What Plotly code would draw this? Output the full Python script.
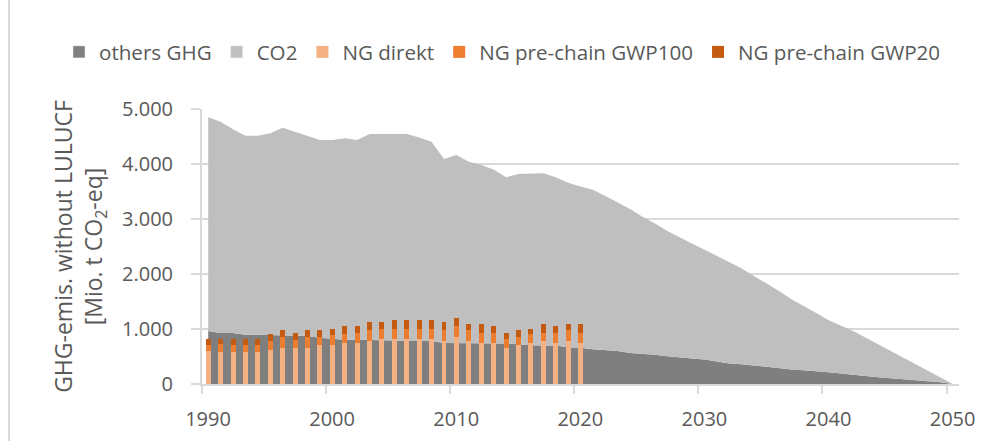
import plotly.graph_objects as go

# ---------------- data ----------------
years = list(range(1990, 2051))

others_ghg = [962, 926, 926, 896, 896, 890, 883, 883, 871, 841,
              817, 805, 805, 805, 805, 792, 780, 780, 780, 744,
              744, 744, 744, 740, 735, 725, 705, 700, 700, 670,
              660, 630, 620, 600, 565, 550, 530, 505, 490, 465,
              445, 410, 375, 360, 335, 310, 285, 265, 250, 235,
              215, 190, 165, 140, 125, 105, 90, 70, 50, 30, 0]

co2 = [3887, 3843, 3704, 3618, 3618, 3667, 3777, 3704, 3643, 3594,
       3618, 3661, 3630, 3740, 3740, 3753, 3765, 3704, 3625, 3345,
       3418, 3296, 3236, 3160, 3025, 3095, 3125, 3130, 3060, 2990,
       2930, 2900, 2800, 2700, 2615, 2490, 2390, 2275, 2170, 2085,
       1995, 1920, 1835, 1740, 1625, 1520, 1405, 1275, 1170, 1055,
       945, 870, 795, 700, 595, 495, 390, 290, 190, 90, 0]

ng_years = list(range(1990, 2021))
ng_direkt = [592, 580, 580, 580, 580, 622, 659, 659, 659, 701,
             701, 744, 744, 780, 811, 811, 811, 811, 811, 780,
             853, 780, 744, 744, 659, 701, 744, 780, 744, 780, 744]
ng_prechain_gwp100 = [109, 150, 121, 121, 121, 152, 194, 146, 194, 152,
                      182, 158, 188, 194, 194, 194, 194, 194, 194, 194,
                      194, 194, 188, 188, 164, 152, 158, 152, 188, 194, 188]
ng_prechain_gwp20 = [110, 80, 110, 110, 110, 128, 121, 121, 121, 121,
                     122, 145, 115, 146, 115, 152, 152, 152, 152, 146,
                     152, 110, 152, 115, 109, 121, 103, 152, 115, 110, 152]

x_tick_labels = ["1990", "2000", "2010", "2020", "2030", "2040", "2050"]
y_tick_values = [0, 1000, 2000, 3000, 4000, 5000]

# ---------------- styling ----------------
C_OTHERS = "#7F7F7F"
C_CO2 = "#BFBFBF"
C_DIREKT = "#F4B183"
C_GWP100 = "#ED7D31"
C_GWP20 = "#C55A11"
GRID = "#D9D9D9"
TXT = "#595959"
FONT = "Open Sans"

PLOT_L, PLOT_R, PLOT_T, PLOT_B = 202, 959, 109, 384
W, H = 994, 441
plot_w = PLOT_R - PLOT_L

fig = go.Figure()

# stacked areas
fig.add_trace(go.Scatter(x=years, y=others_ghg, name="others GHG", stackgroup="ghg",
                         mode="lines", line=dict(width=0, color=C_OTHERS),
                         fillcolor=C_OTHERS, showlegend=False, hoverinfo="x+y+name"))
fig.add_trace(go.Scatter(x=years, y=co2, name="CO2", stackgroup="ghg",
                         mode="lines", line=dict(width=0, color=C_CO2),
                         fillcolor=C_CO2, showlegend=False, hoverinfo="x+y+name"))

# legend entries for the areas (square symbols like the reference)
fig.add_trace(go.Bar(x=[None], y=[None], name="others GHG", marker_color=C_OTHERS,
                     yaxis="y2"))
fig.add_trace(go.Bar(x=[None], y=[None], name="CO2", marker_color=C_CO2,
                     yaxis="y2"))

# stacked NG bars (on an overlaid y axis so they draw above the areas)
bar_w = 0.4
fig.add_trace(go.Bar(x=ng_years, y=ng_direkt, name="NG direkt", marker_color=C_DIREKT,
                     width=bar_w, yaxis="y2", marker_line_width=0))
fig.add_trace(go.Bar(x=ng_years, y=ng_prechain_gwp100, name="NG pre-chain GWP100",
                     marker_color=C_GWP100, width=bar_w, yaxis="y2", marker_line_width=0))
fig.add_trace(go.Bar(x=ng_years, y=ng_prechain_gwp20, name="NG pre-chain GWP20",
                     marker_color=C_GWP20, width=bar_w, yaxis="y2", marker_line_width=0))

# category-style ticks: tick marks between categories, labels centred on the year
tick_pos = [int(t) - 0.5 for t in x_tick_labels]

fig.update_layout(
    width=W, height=H,
    margin=dict(l=PLOT_L, r=W - PLOT_R, t=PLOT_T, b=H - PLOT_B, autoexpand=False),
    paper_bgcolor="white", plot_bgcolor="white",
    font=dict(family=FONT, size=20, color=TXT),
    barmode="stack", bargap=0,
    separators=",.",
    showlegend=True,
    legend=dict(orientation="h", x=(59 - PLOT_L) / plot_w, xanchor="left",
                y=(PLOT_B - 52) / (PLOT_B - PLOT_T), yanchor="middle",
                traceorder="normal", font=dict(size=20.6, color=TXT),
                bgcolor="rgba(0,0,0,0)", itemclick=False),
    xaxis=dict(range=[years[0] - 0.5, years[-1] + 0.5],
               tickvals=tick_pos, ticktext=x_tick_labels,
               ticklabelshift=6, ticklabelstandoff=8, automargin=False,
               ticks="outside", ticklen=8, tickwidth=2, tickcolor=GRID,
               showline=True, linecolor=GRID, linewidth=2,
               showgrid=False, zeroline=False,
               tickfont=dict(size=20, color=TXT)),
    yaxis=dict(range=[0, 5000], tickvals=y_tick_values, tickformat=",d",
               ticks="outside", ticklen=9, tickwidth=2, tickcolor=GRID,
               ticklabelstandoff=14, automargin=False,
               showline=True, linecolor=GRID, linewidth=2,
               showgrid=True, gridcolor=GRID, gridwidth=2, zeroline=False,
               tickfont=dict(size=20, color=TXT),
               title=dict(text="GHG-emis. without LULUCF<br>[Mio. t CO<sub>2</sub>-eq]",
                          font=dict(size=23, color=TXT), standoff=13)),
    yaxis2=dict(range=[0, 5000], overlaying="y", visible=False, fixedrange=True),
    shapes=[dict(type="line", xref="paper", yref="paper",
                 x0=(9 - PLOT_L) / plot_w, x1=(9 - PLOT_L) / plot_w, y0=-0.3, y1=1.5,
                 line=dict(color=GRID, width=2))],
)

fig.write_html("out.html", config={"displayModeBar": False},
               post_script="document.body.style.margin='0';document.body.style.overflow='hidden';")
